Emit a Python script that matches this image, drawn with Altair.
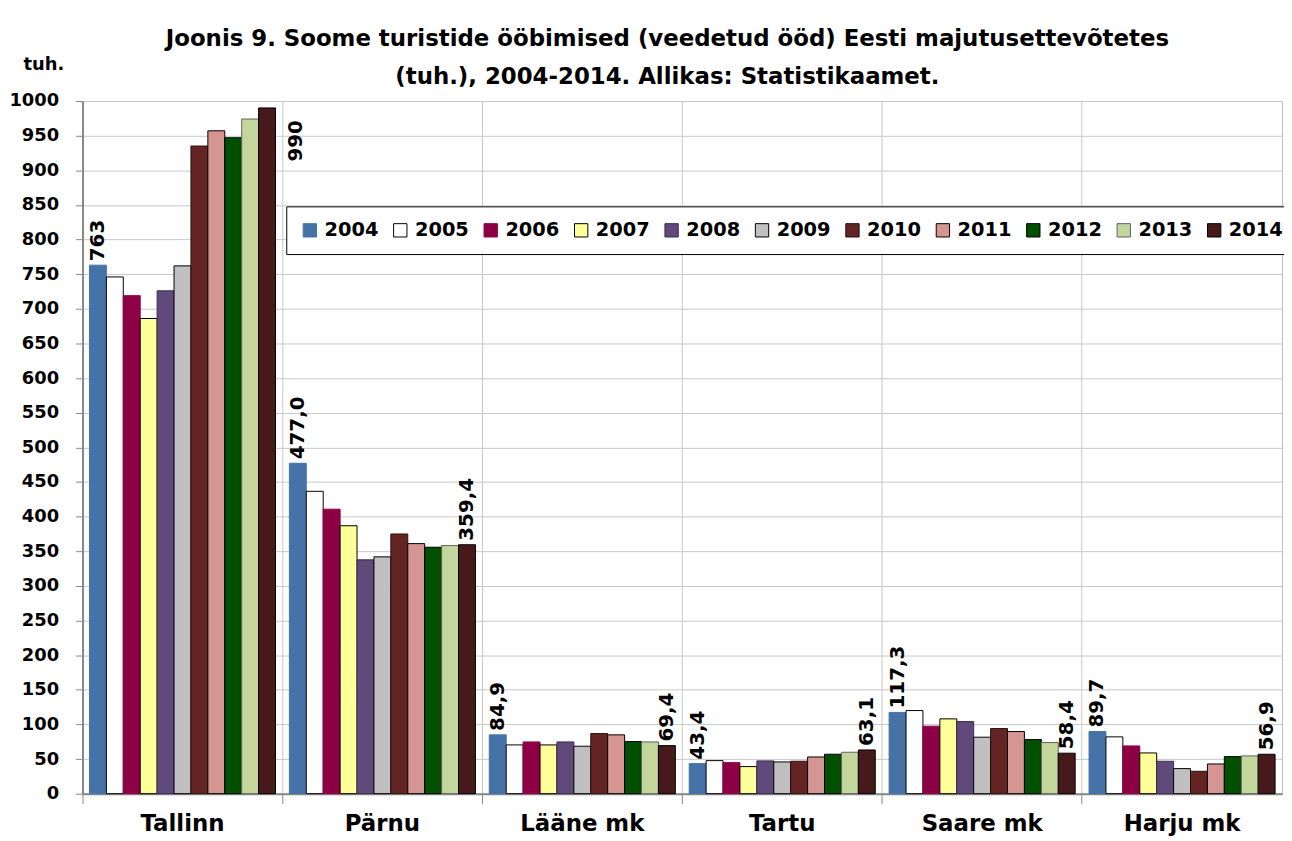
import altair as alt
import pandas as pd

regions = ["Tallinn", "Pärnu", "Lääne mk", "Tartu", "Saare mk", "Harju mk"]
years = ["2004", "2005", "2006", "2007", "2008", "2009", "2010", "2011", "2012", "2013", "2014"]

tallinn = [763, 746, 719, 686, 726, 762, 935, 957, 947, 974, 990]
parnu = [477.0, 436.5, 410.7, 386.8, 337.6, 341.9, 374.9, 361.0, 355.8, 358.2, 359.4]
laane = [84.9, 70.4, 74.7, 70.4, 74.7, 68.5, 86.8, 84.9, 75.2, 74.7, 69.4]
tartu = [43.4, 47.7, 44.8, 39.1, 47.3, 45.8, 46.8, 53.0, 56.9, 59.8, 63.1]
saare = [117.3, 120.0, 97.4, 108.0, 104.1, 81.5, 94.0, 89.7, 78.1, 73.8, 58.4]
harju = [89.7, 82.0, 68.9, 58.8, 46.8, 36.2, 32.3, 42.9, 53.5, 54.5, 56.9]
series = [tallinn, parnu, laane, tartu, saare, harju]

first_labels = ["763", "477,0", "84,9", "43,4", "117,3", "89,7"]
last_labels = ["990", "359,4", "69,4", "63,1", "58,4", "56,9"]

colors = ["#4573A7", "#FFFFFF", "#8E0045", "#FFFF99", "#604A7B", "#C0C0C0",
          "#632523", "#D59593", "#005000", "#C3D69B", "#461A1B"]
strokes = ["#4573A7", "#000000", "#8E0045", "#000000", "#3A2A50", "#000000",
           "#2A0E0E", "#000000", "#000000", "#606060", "#000000"]

title_lines = ["Joonis 9. Soome turistide ööbimised (veedetud ööd) Eesti majutusettevõtetes",
               "(tuh.), 2004-2014. Allikas: Statistikaamet."]
y_ticks = [0, 50, 100, 150, 200, 250, 300, 350, 400, 450, 500,
           550, 600, 650, 700, 750, 800, 850, 900, 950, 1000]

rows = []
for r, vals, fl, ll in zip(regions, series, first_labels, last_labels):
    for i, (y, v) in enumerate(zip(years, vals)):
        lab = fl if i == 0 else (ll if i == len(years) - 1 else "")
        rows.append({"region": r, "year": y, "value": v, "label": lab})
df = pd.DataFrame(rows)

FONT = "DejaVu Sans"

x_enc = alt.X("region:N", sort=regions,
              scale=alt.Scale(paddingInner=0, paddingOuter=0),
              axis=alt.Axis(title=None, bandPosition=0, grid=True, ticks=True,
                            tickSize=10, labelAngle=0, labelFontSize=23,
                            labelPadding=9, labelBaseline="top"))
xo_enc = alt.XOffset("year:N", sort=years,
                     scale=alt.Scale(domain=years, paddingOuter=0.41, paddingInner=0))
y_enc = alt.Y("value:Q",
              scale=alt.Scale(domain=[0, 1000], nice=False),
              axis=alt.Axis(values=y_ticks, format="d", title="tuh.",
                            labelOverlap=False, tickCount=21,
                            titleAngle=0, titleAlign="left", titleBaseline="middle",
                            titleX=-60, titleY=-37, titleFontSize=18,
                            tickSize=7, labelPadding=17, labelFontSize=18))

bars = alt.Chart(df).mark_bar(strokeWidth=1).encode(
    x=x_enc,
    xOffset=xo_enc,
    y=y_enc,
    color=alt.Color("year:N", sort=years,
                    scale=alt.Scale(domain=years, range=colors),
                    legend=alt.Legend(title=None, orient="none", direction="horizontal",
                                      columns=11, legendX=205, legendY=106,
                                      symbolType="square", symbolSize=180,
                                      symbolStrokeColor="#000000", symbolStrokeWidth=1,
                                      labelFontSize=19.5, labelFont=FONT, labelFontWeight="bold",
                                      labelColor="#000000", columnPadding=12, labelOffset=5,
                                      padding=14, strokeColor="#000000",
                                      fillColor="#FFFFFF")),
    stroke=alt.Stroke("year:N", sort=years,
                      scale=alt.Scale(domain=years, range=strokes), legend=None),
)

labels = alt.Chart(df).transform_filter(
    (alt.datum.label != "") & (alt.datum.label != "990")
).mark_text(angle=270, align="left", baseline="middle", dx=4,
            fontSize=20, font=FONT, fontWeight="bold", color="#000000").encode(
    x=x_enc,
    xOffset=xo_enc,
    y=y_enc,
    text="label:N",
)

label990 = alt.Chart(df).transform_filter(
    alt.datum.label == "990"
).mark_text(angle=270, align="left", baseline="middle", dx=-54, dy=29,
            fontSize=20, font=FONT, fontWeight="bold", color="#000000").encode(
    x=x_enc,
    xOffset=xo_enc,
    y=y_enc,
    text="label:N",
)

chart = alt.layer(bars, labels, label990).properties(
    width=1207, height=697,
    autosize=alt.AutoSizeParams(type="none"),
    padding={"left": 75, "top": 91, "right": 2, "bottom": 40},
    title=alt.TitleParams(text=title_lines, fontSize=23, font=FONT, fontWeight="bold",
                          color="#000000", anchor="middle", dx=-15, dy=46, lineHeight=38,
                          offset=12),
).configure_axis(
    labelFont=FONT, labelFontWeight="bold", labelColor="#000000",
    titleFont=FONT, titleFontWeight="bold", titleColor="#000000",
    gridColor="#C8C8C8", gridWidth=1,
    domainColor="#888888", domainWidth=2,
    tickColor="#888888", tickWidth=1,
).configure_view(
    stroke="#BBBBBB", strokeWidth=1
).configure_bar(binSpacing=0)

chart.save("out.html", embed_options={"renderer": "svg", "actions": False})
